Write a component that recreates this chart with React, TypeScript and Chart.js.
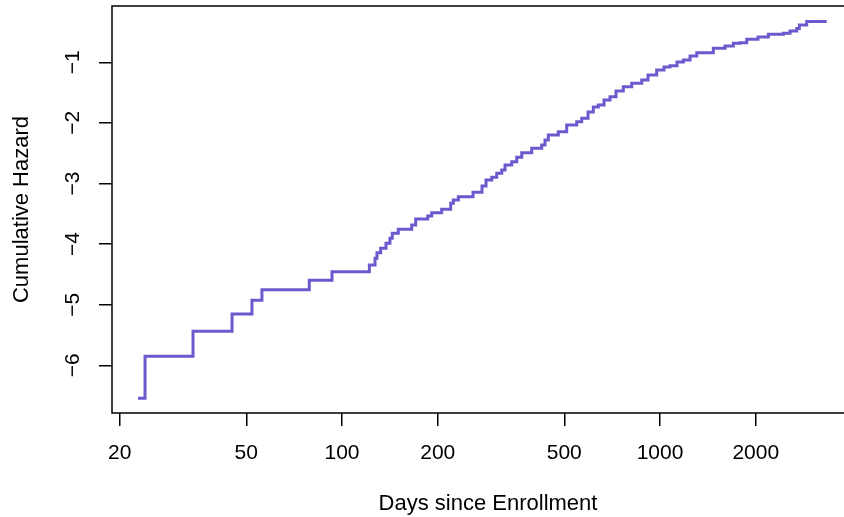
import React, { useEffect, useRef } from "react";
import { Chart, registerables } from "chart.js";

Chart.register(...registerables);

// Step points of the cumulative hazard curve (log scale)
const days = [
  22.83, 24.02, 34.0, 45.1, 52.1, 56.0, 78.9, 93.0,
  121.9, 127.0, 128.8, 132.3, 137.5, 141.5, 143.9, 150.3,
  165.6, 170.5, 186.0, 191.5, 205.8, 219.7, 223.9, 232.2,
  258.2, 275.6, 283.7, 295.7, 306.6, 317.9, 325.6, 341.8,
  354.4, 367.5, 395.0, 424.6, 434.9, 445.4, 478.8, 508.8,
  547.1, 567.3, 593.8, 617.0, 639.7, 666.7, 696.3, 727.2,
  766.7, 814.7, 876.1, 917.0, 976.3, 1029, 1075, 1131,
  1184, 1243, 1305, 1471, 1601, 1701, 1785, 1874,
  2033, 2191, 2443, 2564, 2691, 2743, 2893, 3343,
];

const logHazard = [
  -6.545, -5.851, -5.439, -5.153, -4.927, -4.752, -4.597, -4.455,
  -4.345, -4.234, -4.142, -4.069, -3.987, -3.904, -3.822, -3.756,
  -3.685, -3.586, -3.536, -3.482, -3.426, -3.327, -3.272, -3.218,
  -3.145, -3.041, -2.942, -2.898, -2.832, -2.777, -2.695, -2.640,
  -2.568, -2.492, -2.419, -2.365, -2.282, -2.200, -2.145, -2.035,
  -1.980, -1.924, -1.820, -1.738, -1.705, -1.622, -1.568, -1.474,
  -1.403, -1.347, -1.292, -1.210, -1.127, -1.078, -1.056, -0.995,
  -0.962, -0.896, -0.842, -0.769, -0.731, -0.686, -0.677, -0.620,
  -0.583, -0.538, -0.522, -0.484, -0.442, -0.384, -0.327, -0.327,
];

const xTicks = [20, 50, 100, 200, 500, 1000, 2000];
const yTicks = [-6, -5, -4, -3, -2, -1];
const xTitle = "Days since Enrollment";
const yTitle = "Cumulative Hazard";

const FONT = "'Liberation Sans', Arial, Helvetica, sans-serif";

export default function App() {
  const ref = useRef<HTMLCanvasElement>(null);

  useEffect(() => {
    const boxPlugin = {
      id: "boxFrame",
      afterDraw(chart: any) {
        const { ctx, chartArea: a } = chart;
        ctx.save();
        ctx.strokeStyle = "#000";
        ctx.lineWidth = 1.5;
        ctx.strokeRect(a.left, a.top, a.right - a.left, a.bottom - a.top);
        ctx.restore();
      },
    };

    const chart = new Chart(ref.current as HTMLCanvasElement, {
      type: "line",
      data: {
        datasets: [
          {
            data: days.map((d, i) => ({ x: d, y: logHazard[i] })),
            stepped: "before",
            borderColor: "#6A5ACD",
            borderWidth: 3,
            pointRadius: 0,
            fill: false,
          },
        ],
      },
      options: {
        responsive: false,
        animation: false,
        layout: { padding: { top: 6, right: 16, left: 0, bottom: 0 } },
        plugins: {
          legend: { display: false },
          tooltip: { enabled: false },
        },
        scales: {
          x: {
            type: "logarithmic",
            min: 18.91,
            max: 4380,
            afterBuildTicks: (s: any) => {
              s.ticks = xTicks.map((v) => ({ value: v }));
            },
            afterFit: (s: any) => {
              s.height = 104;
              s.paddingLeft = 0;
              s.paddingRight = 0;
            },
            border: { display: false },
            grid: {
              display: true,
              drawOnChartArea: false,
              drawTicks: true,
              tickLength: 13,
              color: "#000",
              lineWidth: 1.5,
            },
            ticks: {
              autoSkip: false,
              maxRotation: 0,
              minRotation: 0,
              padding: 15,
              color: "#000",
              font: { family: FONT, size: 21 },
              callback: (v: any) => String(v),
            },
            title: {
              display: true,
              text: xTitle,
              color: "#000",
              font: { family: FONT, size: 22, lineHeight: 1.2 },
              padding: { top: 0, bottom: 0 },
            },
          },
          y: {
            type: "linear",
            min: -6.787,
            max: -0.071,
            afterBuildTicks: (s: any) => {
              s.ticks = yTicks.map((v) => ({ value: v }));
            },
            afterFit: (s: any) => {
              s.width = 112;
              s.paddingTop = 0;
              s.paddingBottom = 0;
            },
            border: { display: false },
            grid: {
              display: true,
              drawOnChartArea: false,
              drawTicks: true,
              tickLength: 13,
              color: "#000",
              lineWidth: 1.5,
            },
            ticks: {
              autoSkip: false,
              minRotation: 90,
              maxRotation: 90,
              crossAlign: "center",
              padding: 14,
              color: "#000",
              font: { family: FONT, size: 21 },
              callback: (v: any) => (v < 0 ? "\u2212" : "") + Math.abs(v),
            },
            title: {
              display: true,
              text: yTitle,
              color: "#000",
              font: { family: FONT, size: 22, lineHeight: 1.2 },
              padding: { top: 9, bottom: 0 },
            },
          },
        },
      } as any,
      plugins: [boxPlugin],
    });

    return () => chart.destroy();
  }, []);

  return (
    <div
      style={{
        position: "fixed",
        left: 0,
        top: 0,
        width: 844,
        height: 517,
        overflow: "hidden",
        background: "#fff",
      }}
    >
      <canvas ref={ref} width={880} height={517} style={{ display: "block" }} />
    </div>
  );
}
